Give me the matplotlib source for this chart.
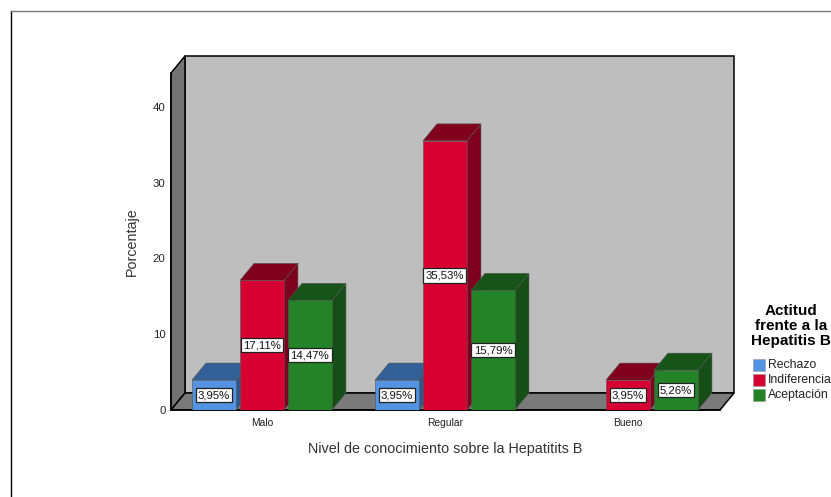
import matplotlib
matplotlib.use('Agg')
import matplotlib.pyplot as plt
from matplotlib.patches import Polygon, Rectangle
from matplotlib.lines import Line2D

plt.rcParams['font.family'] = ['Liberation Sans', 'DejaVu Sans']

# datos
niveles = ['Malo', 'Regular', 'Bueno']
actitudes = ['Rechazo', 'Indiferencia', 'Aceptación']
rechazo = [3.95, 3.95, None]
indiferencia = [17.11, 35.53, 3.95]
aceptacion = [14.47, 15.79, 5.26]
y_ticks = [0, 10, 20, 30, 40]

series = [rechazo, indiferencia, aceptacion]
colores = ['#5294E2', '#D60032', '#248327']
colores_top = ['#335F97', '#80001E', '#175418']
colores_lado = ['#2F578A', '#7E001E', '#154F17']

W, H = 831, 497
fig = plt.figure(figsize=(W / 100, H / 100), dpi=100)
# ejes en pixeles de la figura: 171-734 en x, 56-410 en y
ax = fig.add_axes([171 / W, 1 - 410 / H, 563 / W, 354 / H])

px_x = 183.0   # pixeles por categoria
px_y = 7.575   # pixeles por punto porcentual
dx = 14 / px_x
dy = 17 / px_y
x0, x1 = -0.497, 2.503
y_top = (410 - 73) / px_y

ax.set_xlim(x0, x1 + dx)
ax.set_ylim(0, y_top + dy)
ax.patch.set_visible(False)


# paredes y piso
ax.add_patch(Polygon([(x0 + dx, dy), (x1 + dx, dy), (x1 + dx, y_top + dy), (x0 + dx, y_top + dy)],
                     facecolor='#BEBEBE', edgecolor='black', lw=1.1, zorder=1, clip_on=False))
ax.add_patch(Polygon([(x0, 0), (x0 + dx, dy), (x0 + dx, y_top + dy), (x0, y_top)],
                     facecolor='#737373', edgecolor='black', lw=1.1, zorder=1, clip_on=False))
ax.add_patch(Polygon([(x0, 0), (x1, 0), (x1 + dx, dy), (x0 + dx, dy)],
                     facecolor='#7A7A7A', edgecolor='black', lw=1.1, zorder=1, clip_on=False))

ancho = 44 / px_x
paso = 48 / px_x


# Funcion para dibujar una barra con su cara superior y lateral
def barra_3d(x, v, i, z):
    l = x - ancho / 2
    r = x + ancho / 2
    borde = dict(edgecolor='#555555', lw=0.4, zorder=z)
    ax.add_patch(Polygon([(r, 0), (r + dx, dy), (r + dx, v + dy), (r, v)],
                         facecolor=colores_lado[i], **borde))
    ax.add_patch(Polygon([(l, v), (r, v), (r + dx, v + dy), (l + dx, v + dy)],
                         facecolor=colores_top[i], **borde))
    ax.add_patch(Rectangle((l, 0), ancho, v, facecolor=colores[i], **borde))
    ax.text(x, v / 2, f'{v:.2f}%'.replace('.', ','), ha='center', va='center',
            fontsize=8.2, color='#111111', zorder=z + 1,
            bbox=dict(boxstyle='square,pad=0.2', facecolor='white', edgecolor='#222222', lw=0.9))


for i, valores in enumerate(series):
    for j, v in enumerate(valores):
        if v is None:
            continue
        barra_3d(j + (i - 1) * paso, v, i, 3 + j * 3 + i)

# ejes
for s in ['top', 'right']:
    ax.spines[s].set_visible(False)
ax.spines['left'].set_bounds(0, y_top)
ax.spines['bottom'].set_bounds(x0, x1)
for s in ['left', 'bottom']:
    ax.spines[s].set_linewidth(1.1)
    ax.spines[s].set_zorder(2)
ax.set_yticks(y_ticks)
ax.set_xticks(range(len(niveles)))
ax.set_xticklabels(niveles)
ax.tick_params(axis='y', length=0, pad=4, labelsize=8.2, labelcolor='#222222')
ax.tick_params(axis='x', length=0, pad=6, labelsize=7.4, labelcolor='#222222')

ax.set_ylabel('Porcentaje', fontsize=10.3, color='#333333')
ax.yaxis.set_label_coords((139 - 171) / 563, (410 - 242) / 354)
ax.set_xlabel('Nivel de conocimiento sobre la Hepatitits B', fontsize=10.4, color='#333333')
ax.xaxis.set_label_coords((445 - 171) / 563, -(449 - 410) / 354)
ax.xaxis.label.set_va('center')

# leyenda
fig.text(791 / W, 1 - 326 / H, 'Actitud\nfrente a la\nHepatitis B', ha='center', va='center',
         fontsize=11, fontweight='bold', linespacing=1.12, color='black')
for i, nombre in enumerate(actitudes):
    y = 364.5 + i * 15.2
    fig.add_artist(Rectangle((753 / W, 1 - (y + 6) / H), 12 / W, 12 / H, facecolor=colores[i],
                             edgecolor='#999999', lw=0.4, transform=fig.transFigure))
    fig.text(768 / W, 1 - y / H, nombre, ha='left', va='center', fontsize=8.8, color='#222222')

# marco exterior
fig.add_artist(Line2D([10.5 / W, 10.5 / W], [0, 1 - 10.5 / H], color='black', lw=1, transform=fig.transFigure))
fig.add_artist(Line2D([10.5 / W, 1], [1 - 10.5 / H, 1 - 10.5 / H], color='#777777', lw=1, transform=fig.transFigure))

fig.savefig('out.png', dpi=100)
